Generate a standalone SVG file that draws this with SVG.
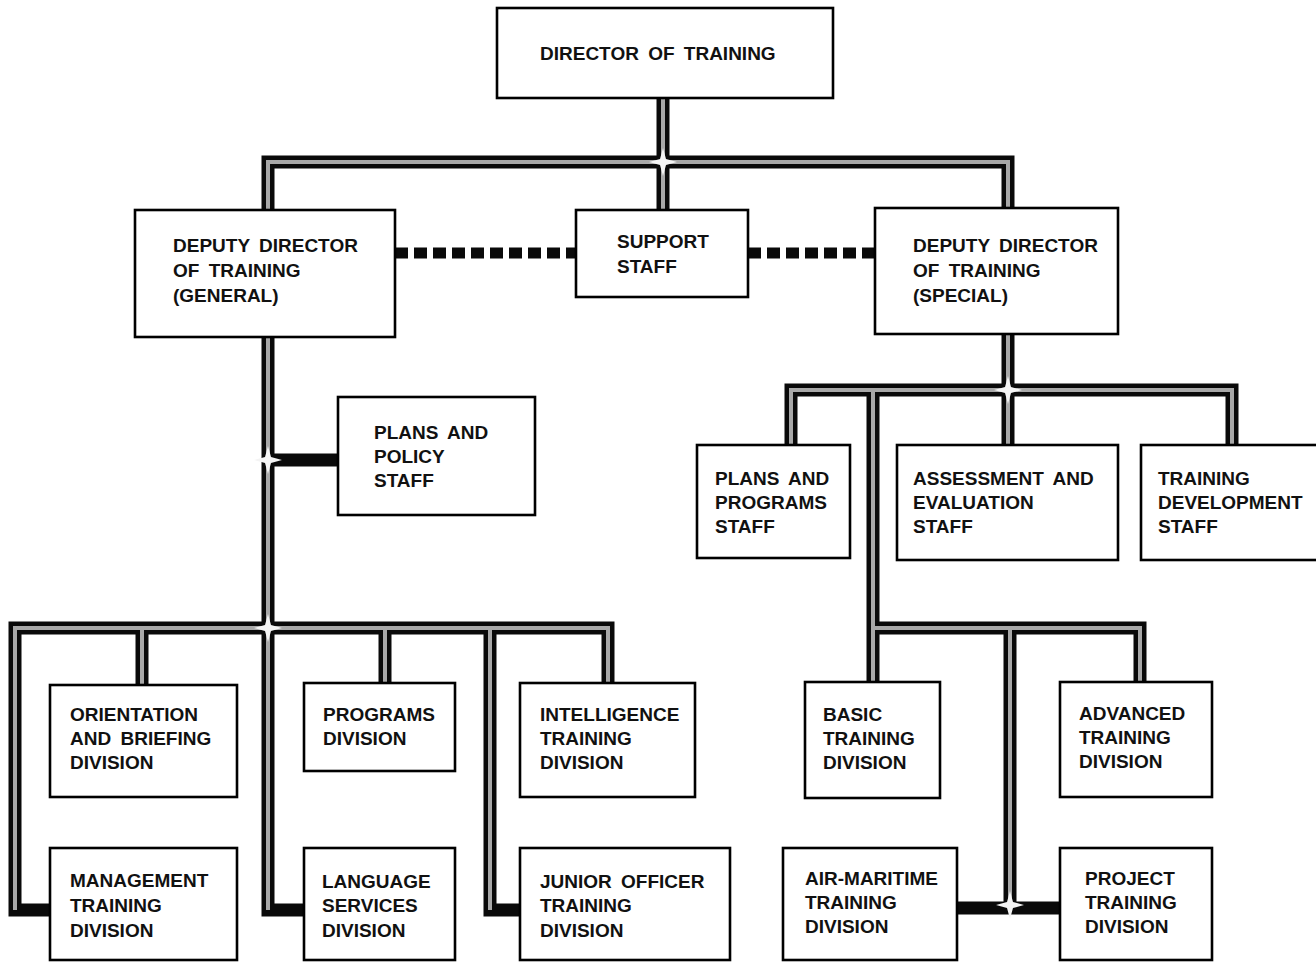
<svg xmlns="http://www.w3.org/2000/svg" width="1316" height="963" viewBox="0 0 1316 963">
<style>
.box{fill:#fff;stroke:#000;stroke-width:2.6}
.t{font-family:"Liberation Sans",Arial,sans-serif;font-weight:bold;font-size:19px;fill:#111;word-spacing:4px}
.co{fill:none;stroke:#0a0a0a;stroke-width:13;stroke-linejoin:miter;stroke-linecap:butt}
.ci{fill:none;stroke:#a8a8a8;stroke-width:4;stroke-linejoin:miter;stroke-linecap:butt}
.dot{fill:none;stroke:#0a0a0a;stroke-width:11;stroke-dasharray:13 6}
.star{fill:#f4f4f4}
</style>
<defs>
<polygon id="star" class="star" points="0,-14 3,-3 14,0 3,3 0,14 -3,3 -14,0 -3,-3"/>
</defs>
<rect width="1316" height="963" fill="#fff"/>
<g id="connectors">
<g class="co">
<path d="M663 98 V162"/>
<path d="M268 210 V162 H1008 V208"/>
<path d="M663 162 V210"/>
<path d="M268 337 V910 H304"/>
<path d="M268 460 H338"/>
<path d="M50 910 H15 V628 H608 V683"/>
<path d="M142 628 V685"/>
<path d="M385 628 V683"/>
<path d="M490 628 V910 H520"/>
<path d="M1008 334 V445"/>
<path d="M791 445 V390 H1232 V445"/>
<path d="M873 390 V682"/>
<path d="M873 628 H1140 V682"/>
<path d="M1010 628 V908"/>
<path d="M957 908 H1060"/>
</g>
<g class="ci">
<path d="M663 98 V162"/>
<path d="M268 210 V162 H1008 V208"/>
<path d="M663 162 V210"/>
<path d="M268 337 V910"/>
<path d="M15 910 V628 H608 V683"/>
<path d="M142 628 V685"/>
<path d="M385 628 V683"/>
<path d="M490 628 V910"/>
<path d="M1008 334 V445"/>
<path d="M791 445 V390 H1232 V445"/>
<path d="M873 390 V682"/>
<path d="M873 628 H1140 V682"/>
<path d="M1010 628 V908"/>
</g>
<use href="#star" x="663" y="162"/>
<use href="#star" x="268" y="460"/>
<use href="#star" x="268" y="628"/>
<use href="#star" x="1008" y="390"/>
<use href="#star" x="1010" y="905"/>
<path class="dot" d="M395 253 H576"/>
<path class="dot" d="M748 253 H875"/>
</g>
<g id="director"><rect class="box" x="497" y="8" width="336" height="90"/><text class="t" x="540" y="60">DIRECTOR OF TRAINING</text></g>
<g id="dep-general"><rect class="box" x="135" y="210" width="260" height="127"/><text class="t" x="173" y="252">DEPUTY DIRECTOR</text><text class="t" x="173" y="277">OF TRAINING</text><text class="t" x="173" y="302">(GENERAL)</text></g>
<g id="support"><rect class="box" x="576" y="210" width="172" height="87"/><text class="t" x="617" y="248">SUPPORT</text><text class="t" x="617" y="273">STAFF</text></g>
<g id="dep-special"><rect class="box" x="875" y="208" width="243" height="126"/><text class="t" x="913" y="252">DEPUTY DIRECTOR</text><text class="t" x="913" y="277">OF TRAINING</text><text class="t" x="913" y="302">(SPECIAL)</text></g>
<g id="plans-policy"><rect class="box" x="338" y="397" width="197" height="118"/><text class="t" x="374" y="439">PLANS AND</text><text class="t" x="374" y="463">POLICY</text><text class="t" x="374" y="487">STAFF</text></g>
<g id="plans-programs"><rect class="box" x="697" y="445" width="153" height="113"/><text class="t" x="715" y="485">PLANS AND</text><text class="t" x="715" y="509">PROGRAMS</text><text class="t" x="715" y="533">STAFF</text></g>
<g id="assessment"><rect class="box" x="897" y="445" width="221" height="115"/><text class="t" x="913" y="485">ASSESSMENT AND</text><text class="t" x="913" y="509">EVALUATION</text><text class="t" x="913" y="533">STAFF</text></g>
<g id="training-dev"><rect class="box" x="1141" y="445" width="180" height="115"/><text class="t" x="1158" y="485">TRAINING</text><text class="t" x="1158" y="509">DEVELOPMENT</text><text class="t" x="1158" y="533">STAFF</text></g>
<g id="orientation"><rect class="box" x="50" y="685" width="187" height="112"/><text class="t" x="70" y="721">ORIENTATION</text><text class="t" x="70" y="745">AND BRIEFING</text><text class="t" x="70" y="769">DIVISION</text></g>
<g id="programs"><rect class="box" x="304" y="683" width="151" height="88"/><text class="t" x="323" y="721">PROGRAMS</text><text class="t" x="323" y="745">DIVISION</text></g>
<g id="intelligence"><rect class="box" x="520" y="683" width="175" height="114"/><text class="t" x="540" y="721">INTELLIGENCE</text><text class="t" x="540" y="745">TRAINING</text><text class="t" x="540" y="769">DIVISION</text></g>
<g id="basic"><rect class="box" x="805" y="682" width="135" height="116"/><text class="t" x="823" y="721">BASIC</text><text class="t" x="823" y="745">TRAINING</text><text class="t" x="823" y="769">DIVISION</text></g>
<g id="advanced"><rect class="box" x="1060" y="682" width="152" height="115"/><text class="t" x="1079" y="720">ADVANCED</text><text class="t" x="1079" y="744">TRAINING</text><text class="t" x="1079" y="768">DIVISION</text></g>
<g id="management"><rect class="box" x="50" y="848" width="187" height="112"/><text class="t" x="70" y="887">MANAGEMENT</text><text class="t" x="70" y="912">TRAINING</text><text class="t" x="70" y="937">DIVISION</text></g>
<g id="language"><rect class="box" x="304" y="848" width="151" height="112"/><text class="t" x="322" y="888">LANGUAGE</text><text class="t" x="322" y="912">SERVICES</text><text class="t" x="322" y="937">DIVISION</text></g>
<g id="junior"><rect class="box" x="520" y="848" width="210" height="112"/><text class="t" x="540" y="888">JUNIOR OFFICER</text><text class="t" x="540" y="912">TRAINING</text><text class="t" x="540" y="937">DIVISION</text></g>
<g id="air-maritime"><rect class="box" x="783" y="848" width="174" height="112"/><text class="t" x="805" y="885">AIR-MARITIME</text><text class="t" x="805" y="909">TRAINING</text><text class="t" x="805" y="933">DIVISION</text></g>
<g id="project"><rect class="box" x="1060" y="848" width="152" height="112"/><text class="t" x="1085" y="885">PROJECT</text><text class="t" x="1085" y="909">TRAINING</text><text class="t" x="1085" y="933">DIVISION</text></g>
</svg>
